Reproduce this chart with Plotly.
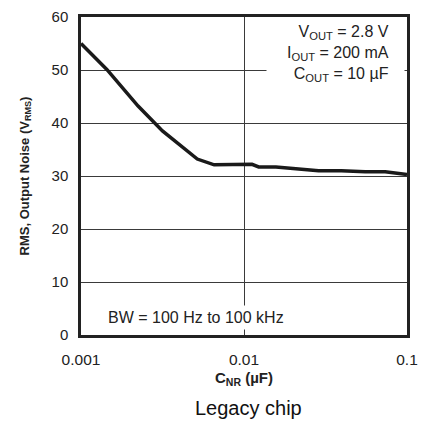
import plotly.graph_objects as go

c_nr = [0.001, 0.00144, 0.00224, 0.00316, 0.00517, 0.00656, 0.0112, 0.0123, 0.0157, 0.0287, 0.0396, 0.0554, 0.0735, 0.1]
noise = [55.0, 50.1, 43.2, 38.5, 33.2, 32.1, 32.2, 31.7, 31.7, 31.0, 31.0, 30.8, 30.8, 30.3]

x_ticks = [0.001, 0.01, 0.1]
x_tick_labels = ["0.001", "0.01", "0.1"]
y_ticks = [0, 10, 20, 30, 40, 50, 60]

FONT = "Liberation Sans, Arial, sans-serif"
GRID = "#3a3a3a"

fig = go.Figure()
fig.add_trace(go.Scatter(x=c_nr, y=noise, mode="lines",
                         line=dict(color="#1a1a1a", width=3.5), showlegend=False))

fig.update_layout(
    width=426, height=426,
    margin=dict(l=81, r=17, t=8, b=91),
    paper_bgcolor="white", plot_bgcolor="white",
    font=dict(family=FONT, size=15, color="#222"),
    xaxis=dict(type="log", range=[-3, -1], tickvals=x_ticks, ticktext=x_tick_labels,
               showgrid=True, gridcolor=GRID, gridwidth=1,
               showline=True, linecolor="#222", linewidth=2.5, mirror=True,
               ticks="outside", ticklen=9, tickcolor="white", zeroline=False,
               tickfont=dict(size=15.5),
               title=dict(text="<b>C<sub>NR</sub> (µF)</b>", font=dict(size=15), standoff=6)),
    yaxis=dict(range=[0, 60], tickvals=y_ticks, showgrid=True, gridcolor=GRID, gridwidth=1,
               showline=True, linecolor="#222", linewidth=2.5, mirror=True,
               ticks="outside", ticklen=7, tickcolor="white", zeroline=False,
               tickfont=dict(size=15),
               title=dict(text="<b>RMS, Output Noise (V<sub>RMS</sub>)</b>", font=dict(size=13), standoff=20)),
    annotations=[
        dict(xref="paper", yref="paper", x=0.995, y=0.99, xanchor="right", yanchor="top",
             showarrow=False, bgcolor="white", width=135, height=66, text=" "),
        dict(xref="paper", yref="paper", x=0.955, y=0.99, xanchor="right", yanchor="top",
             align="right", showarrow=False, borderpad=2,
             text="V<sub>OUT</sub> = 2.8 V<br>I<sub>OUT</sub> = 200 mA<br>C<sub>OUT</sub> = 10 µF",
             font=dict(size=16)),
        dict(xref="paper", yref="paper", x=0.07, y=0.015, xanchor="left", yanchor="bottom",
             showarrow=False, bgcolor="white", borderpad=3,
             text="BW = 100 Hz to 100 kHz", font=dict(size=16)),
        dict(xref="paper", yref="paper", x=0.515, y=-0.23, xanchor="center", yanchor="middle",
             showarrow=False, text="Legacy chip", font=dict(size=20, color="#111")),
    ],
)

fig.write_html("out.html")
